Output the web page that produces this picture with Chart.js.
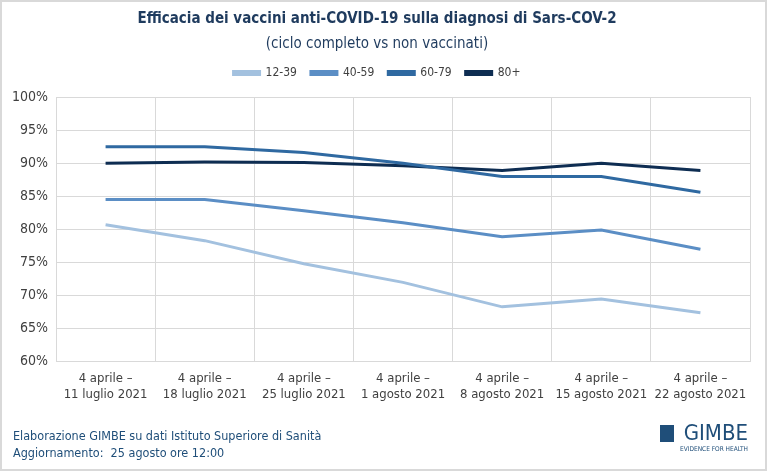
<!DOCTYPE html>
<html><head><meta charset="utf-8">
<script src="https://cdn.jsdelivr.net/npm/chart.js@4"></script>
<style>
html,body{margin:0;padding:0;background:#fff;}
#wrap{position:relative;width:767px;height:471px;}
canvas{display:block;}
</style></head>
<body><div id="wrap"><canvas id="c" width="767" height="471"></canvas></div>
<script>
const categories = [
  ["4 aprile –","11 luglio 2021"],
  ["4 aprile –","18 luglio 2021"],
  ["4 aprile –","25 luglio 2021"],
  ["4 aprile –","1 agosto 2021"],
  ["4 aprile –","8 agosto 2021"],
  ["4 aprile –","15 agosto 2021"],
  ["4 aprile –","22 agosto 2021"]
];
const seriesNames = ["12-39","40-59","60-79","80+"];
const v1239 = [80.7, 78.3, 74.8, 72.0, 68.3, 69.5, 67.4];
const v4059 = [84.5, 84.5, 82.8, 81.0, 78.9, 79.9, 77.0];
const v6079 = [92.5, 92.5, 91.6, 90.0, 88.0, 88.0, 85.6];
const v80 = [90.0, 90.2, 90.1, 89.6, 88.9, 90.0, 88.9];
const colors = ["#a3c1df","#5b8ec5","#2f69a1","#0e2d52"];
const FONT = "'DejaVu Sans Condensed','Liberation Sans Narrow','Open Sans',sans-serif";
const TXT = "#404040";
const seriesValues = [v1239, v4059, v6079, v80];

const legendGap = {
  id:'legendGap',
  beforeInit(chart){
    const origFit = chart.legend.fit;
    chart.legend.fit = function(){ origFit.bind(chart.legend)(); this.height += 8; };
  }
};

const footer = {
  id:'footer',
  afterDraw(chart){
    const ctx = chart.ctx;
    ctx.save();
    ctx.strokeStyle = '#d9d9d9';
    ctx.lineWidth = 2;
    ctx.strokeRect(1,1,765,469);
    ctx.fillStyle = '#1f4e79';
    ctx.font = "12.5px " + FONT;
    ctx.textAlign = 'left';
    ctx.textBaseline = 'middle';
    ctx.fillText("Elaborazione GIMBE su dati Istituto Superiore di Sanità", 13, 437);
    ctx.fillText("Aggiornamento:  25 agosto ore 12:00", 13, 454);
    ctx.textAlign = 'right';
    ctx.fillStyle = '#1f4e79';
    ctx.font = "22px " + FONT;
    ctx.fillText("GIMBE", 748, 434);
    ctx.font = "6.5px " + FONT;
    ctx.fillText("EVIDENCE FOR HEALTH", 748, 449);
    ctx.fillRect(660, 425, 14, 17);
    ctx.restore();
  }
};

new Chart(document.getElementById('c'), {
  type:'line',
  data:{
    labels: categories,
    datasets: seriesNames.map((n,i)=>({
      label:n, data:seriesValues[i], borderColor:colors[i], backgroundColor:colors[i],
      borderWidth:3, pointRadius:0, tension:0, fill:false
    }))
  },
  options:{
    responsive:false, animation:false,
    layout:{padding:{left:4,right:17,top:4,bottom:60}},
    plugins:{
      title:{display:true, text:"Efficacia dei vaccini anti-COVID-19 sulla diagnosi di Sars-COV-2",
        color:'#1f3b5e', font:{family:FONT, size:15, weight:'bold'}, padding:{top:6,bottom:7}},
      subtitle:{display:true, text:"(ciclo completo vs non vaccinati)",
        color:'#1f3b5e', font:{family:FONT, size:15}, padding:{bottom:0}},
      legend:{position:'top', labels:{boxWidth:26, boxHeight:3, color:TXT, font:{family:FONT, size:12}, padding:14}},
      tooltip:{enabled:false}
    },
    scales:{
      x:{offset:true, grid:{color:'#d9d9d9', offset:true, drawTicks:false}, border:{color:'#d9d9d9'},
        ticks:{color:TXT, font:{family:FONT, size:13}, maxRotation:0, autoSkip:false, padding:9}},
      y:{min:60, max:100, grid:{color:'#d9d9d9', drawTicks:false}, border:{display:false},
        ticks:{stepSize:5, color:TXT, font:{family:FONT, size:14}, padding:8, callback:v=>v+'%'}}
    }
  },
  plugins:[legendGap, footer]
});
</script></body></html>
